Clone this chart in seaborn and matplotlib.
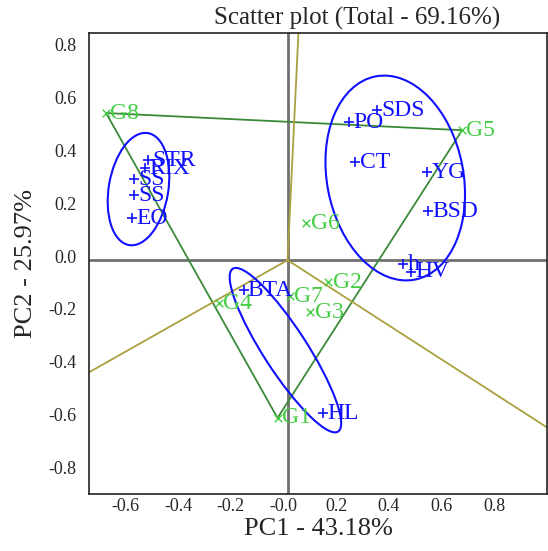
import numpy as np
import pandas as pd
import matplotlib
matplotlib.use('Agg')
import matplotlib.pyplot as plt
import matplotlib.transforms as mtrans
from matplotlib.patches import Ellipse
import seaborn as sns

# traits (blue)
trait_names = ['STR', 'RIX', 'SS', 'SS', 'EO', 'PO', 'SDS', 'CT', 'YG', 'BSD',
               'h', 'HV', 'BTA', 'HL']
trait_pc1 = [-0.530, -0.542, -0.583, -0.583, -0.591, 0.235, 0.341, 0.258, 0.530,
             0.534, 0.439, 0.470, -0.167, 0.136]
trait_pc2 = [0.379, 0.348, 0.307, 0.246, 0.159, 0.523, 0.568, 0.371, 0.333,
             0.186, -0.015, -0.045, -0.114, -0.580]

# genotypes (green)
geno_names = ['G8', 'G5', 'G6', 'G2', 'G7', 'G3', 'G4', 'G1']
geno_pc1 = [-0.689, 0.663, 0.072, 0.155, 0.008, 0.087, -0.261, -0.038]
geno_pc2 = [0.557, 0.492, 0.140, -0.083, -0.136, -0.197, -0.163, -0.598]

# polygon vertices (genotypes on the hull)
hull = ['G8', 'G5', 'G1']

# cluster ellipses: centre x, centre y, width, height, angle
ell_x = [-0.566, 0.409, -0.008]
ell_y = [0.269, 0.311, -0.341]
ell_w = [0.226, 0.518, 0.735]
ell_h = [0.430, 0.784, 0.165]
ell_ang = [-9.6, 11.0, -57.0]

xticks = [-0.6, -0.4, -0.2, 0.0, 0.2, 0.4, 0.6, 0.8]
xtick_labels = ['-0.6', '-0.4', '-0.2', '-0.0', '0.2', '0.4', '0.6', '0.8']
yticks = [-0.8, -0.6, -0.4, -0.2, 0.0, 0.2, 0.4, 0.6, 0.8]
ytick_labels = ['-0.8', '-0.6', '-0.4', '-0.2', '0.0', '0.2', '0.4', '0.6', '0.8']

BLUE = '#1010ff'
GREEN = '#44cc44'
DARKGREEN = '#3a8a3a'
OLIVE = '#aaa040'

sns.set_style('white')
plt.rcParams['font.family'] = ['Liberation Serif', 'DejaVu Serif']

traits = pd.DataFrame({'name': trait_names, 'pc1': trait_pc1, 'pc2': trait_pc2})
genos = pd.DataFrame({'name': geno_names, 'pc1': geno_pc1, 'pc2': geno_pc2})

fig = plt.figure(figsize=(5.48, 5.51), dpi=100)
ax = fig.add_axes([0.1624, 0.1034, 0.8356, 0.8366])
ax.set_xlim(-0.754, 0.985)
ax.set_ylim(-0.886, 0.860)

ax.axhline(0, color='#707070', lw=2, zorder=1)
ax.axvline(0, color='#707070', lw=2, zorder=1)

# polygon and perpendicular rays
gi = genos.set_index('name')
pts = [(gi.loc[n, 'pc1'], gi.loc[n, 'pc2']) for n in hull]
for i in range(len(pts)):
    p, q = np.array(pts[i]), np.array(pts[(i + 1) % len(pts)])
    ax.plot([p[0], q[0]], [p[1], q[1]], color=DARKGREEN, lw=1.3, zorder=2)
    d = q - p
    n = np.array([-d[1], d[0]])
    if np.dot(n, p) < 0:
        n = -n
    n = n / np.linalg.norm(n) * 3
    ax.plot([0, n[0]], [0, n[1]], color=OLIVE, lw=1.3, zorder=2)

for cx, cy, w, h, a in zip(ell_x, ell_y, ell_w, ell_h, ell_ang):
    ax.add_patch(Ellipse((cx, cy), w, h, angle=a, fill=False,
                         edgecolor=BLUE, lw=1.5, zorder=3))

sns.scatterplot(data=genos, x='pc1', y='pc2', marker='x', s=30, color=GREEN,
                linewidth=1.0, ax=ax, zorder=4)
sns.scatterplot(data=traits, x='pc1', y='pc2', marker='+', s=60, color=BLUE,
                linewidth=1.2, ax=ax, zorder=5)

for _, r in genos.iterrows():
    ax.annotate(r['name'], (r['pc1'], r['pc2']), xytext=(3, 0),
                textcoords='offset points', va='center', ha='left',
                color=GREEN, fontsize=17, zorder=6)
for _, r in traits.iterrows():
    ax.annotate(r['name'], (r['pc1'], r['pc2']), xytext=(3, 0),
                textcoords='offset points', va='center', ha='left',
                color=BLUE, fontsize=17, zorder=7)

ax.set_xticks(xticks)
ax.set_xticklabels(xtick_labels, fontsize=13)
ax.set_yticks(yticks)
ax.set_yticklabels(ytick_labels, fontsize=13)
ax.tick_params(length=0, pad=3)
ax.tick_params(axis='y', pad=9)
# labels in the original sit slightly up / left of their ticks
shift_x = mtrans.ScaledTranslation(-0.04, 0, fig.dpi_scale_trans)
shift_y = mtrans.ScaledTranslation(0, 0.04, fig.dpi_scale_trans)
for lab in ax.get_xticklabels():
    lab.set_transform(lab.get_transform() + shift_x)
for lab in ax.get_yticklabels():
    lab.set_transform(lab.get_transform() + shift_y)
for s in ax.spines.values():
    s.set_color('#222222')
    s.set_linewidth(1.2)

ax.set_xlabel('PC1 - 43.18%', fontsize=19, labelpad=2)
ax.set_ylabel('PC2 - 25.97%', fontsize=19, labelpad=8)
ax.set_title('Scatter plot (Total - 69.16%)', fontsize=18, x=0.585, pad=6)

fig.savefig('out.png', dpi=100)
